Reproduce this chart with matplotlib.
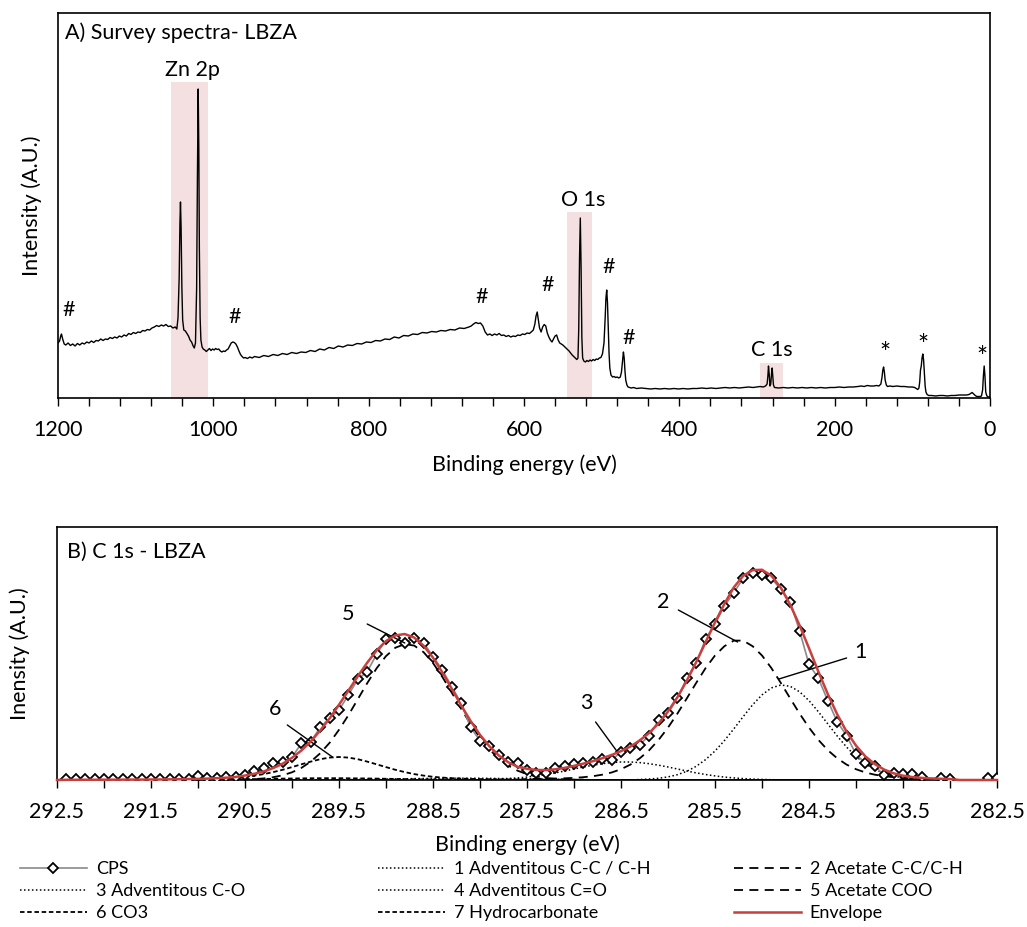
import numpy as np
import matplotlib
matplotlib.use('Agg')
import matplotlib.pyplot as plt
from matplotlib.ticker import MultipleLocator, FixedLocator, FuncFormatter

plt.rcParams['font.family'] = ['Lato', 'DejaVu Sans']

# ---------------- Panel A : survey spectrum ----------------
survey_be = [
    1200, 1198, 1196.5, 1195.5, 1194, 1192, 1190, 1187, 1184, 1181,
    1178, 1175, 1172, 1169, 1166, 1163, 1160, 1157, 1154, 1151,
    1148, 1145, 1142, 1139, 1136, 1133, 1130, 1127, 1124, 1121,
    1118, 1115, 1112, 1109, 1106, 1103, 1100, 1097, 1094, 1091,
    1088, 1085, 1082, 1079, 1076, 1073, 1070, 1067, 1064, 1061,
    1058, 1055, 1052, 1049, 1047, 1045.5, 1044, 1043, 1042.3, 1041.5,
    1040.5, 1039.5, 1038, 1036, 1034, 1032, 1030, 1028, 1026, 1024.5,
    1023, 1021.5, 1020.5, 1019.5, 1018.7, 1018, 1017, 1016, 1014.5, 1013,
    1011, 1009, 1007, 1005, 1003, 1001, 999, 997, 995, 993,
    991, 989, 987, 985, 983, 981, 979, 977, 975, 973,
    971, 969, 967, 965, 963, 961, 959, 956, 953, 950,
    947, 941, 935, 929, 923, 917, 911, 905, 899, 893,
    887, 881, 875, 869, 863, 857, 851, 845, 839, 833,
    827, 821, 815, 809, 803, 797, 791, 785, 779, 773,
    767, 761, 755, 749, 743, 737, 731, 725, 719, 713,
    707, 701, 695, 689, 683, 677, 671, 668, 665, 662,
    659, 656, 653, 650, 647, 644, 641, 638, 635, 632,
    629, 626, 623, 620, 617, 614, 611, 608, 605, 602,
    599, 596, 593, 590, 588, 586, 584.5, 583, 581.5, 580,
    578, 576, 574, 572, 570, 568, 566, 564, 562, 560,
    558, 556, 554, 552, 550, 548, 546, 544, 542, 540,
    538, 536, 534, 532, 530.5, 529.5, 528.5, 527.5, 526.5, 525.5,
    524.5, 523, 521, 519, 517, 515, 513, 511, 509, 507,
    505, 503, 501, 499, 497, 495.5, 494.5, 493.5, 492.5, 491.5,
    490.5, 489.5, 488, 486, 484, 482, 480, 478, 476, 474.5,
    473, 472, 471, 470, 469, 467.5, 466, 464, 462, 459,
    455, 449, 443, 437, 431, 425, 419, 413, 407, 401,
    395, 389, 383, 377, 371, 365, 359, 353, 347, 341,
    335, 329, 323, 317, 311, 305, 300, 296, 292, 289,
    287, 286, 285.2, 284.3, 283.3, 282.3, 281.3, 280.5, 279.7, 278.8,
    277.5, 272, 266, 260, 254, 248, 242, 236, 230, 224,
    218, 212, 206, 200, 194, 188, 182, 176, 170, 166,
    162, 158, 154, 150, 146, 143, 140.5, 139, 138, 137,
    136, 135, 133.5, 132, 129, 125, 120, 115, 110, 105,
    100, 97, 95, 93, 91.5, 90.5, 89.5, 88.5, 87.5, 86.5,
    85.5, 84.5, 83.5, 82.5, 81, 79, 75, 70, 65, 60,
    55, 50, 45, 40, 35, 30, 27, 25, 23, 21,
    19, 17, 15, 13, 11, 9.5, 8.5, 7.5, 6.5, 5.5,
    4, 2, 0.5,
]
survey_int = [
    55, 57, 62, 64, 59, 54, 53, 55, 52.5, 54,
    52, 54.5, 53, 55, 54, 56, 55, 57, 55.5, 57.5,
    57, 59, 57.5, 59, 58.5, 60.5, 59.5, 61, 60, 62,
    61, 63, 62, 64.5, 63.5, 65.5, 64.5, 66, 65.5, 67.5,
    67, 68.5, 68, 70, 71, 72.5, 71.5, 73, 72, 73.5,
    71.5, 72, 70, 71, 69, 80, 120, 175, 196, 170,
    110, 78, 68, 67, 64.5, 62, 58, 56, 52, 50,
    55, 110, 220, 309, 250, 150, 80, 58, 51, 49,
    48, 46.5, 48, 49.5, 47.5, 49, 48, 49.5, 48.5, 49,
    47, 46, 47, 46.5, 48, 49, 52, 55, 56, 55.5,
    54, 51, 47, 43.5, 41.5, 40, 40.5, 39.5, 41, 40,
    41.5, 40.5, 42.5, 41.5, 43.5, 42.5, 44.5, 43.5, 45.5, 44.5,
    46, 45.5, 47.5, 46.5, 49, 48, 50.5, 49.5, 52, 51,
    53, 52.5, 54.5, 54, 56, 55.5, 57.5, 57, 59, 58.5,
    61, 60, 62.5, 62, 64, 63.5, 65.5, 65, 66.5, 66,
    67.5, 67, 68.5, 68, 70, 69.5, 71, 72, 74, 75.5,
    74.5, 75, 72, 66, 63, 64, 62.5, 64, 63, 64.5,
    62.5, 63, 61.5, 62.5, 61, 62, 61.5, 63, 62.5, 64,
    63.5, 65, 64.5, 66.5, 68, 74, 82, 86, 78, 70,
    66, 71, 73.5, 72, 65, 61, 58, 56, 59, 62,
    63, 58, 55, 54, 53, 51.5, 50, 48.5, 47, 45,
    43, 41.5, 40, 38.5, 40, 70, 140, 180, 130, 60,
    40, 37, 36, 37.5, 36.5, 38, 37, 38.5, 37.5, 39,
    38.5, 40, 40.5, 44, 55, 80, 100, 108, 95, 70,
    45, 30, 23, 21, 21.5, 20.5, 21, 20, 21, 26,
    38, 46, 40, 27, 18, 13, 11, 10.5, 10, 10.5,
    9.5, 10, 9.5, 9, 9.5, 9, 9.5, 9, 9.5, 9,
    9.5, 9, 9.5, 9.5, 10, 9.5, 10, 9.5, 10, 10.5,
    10, 10.5, 10, 10.5, 11, 10.5, 11, 11.5, 11, 12,
    14, 22, 32, 24, 12, 14, 24, 30, 22, 13,
    10.5, 10, 10.5, 10, 10.5, 10, 10.5, 10, 10.5, 10,
    10.5, 10, 10.5, 10.5, 11, 10.5, 11, 11, 11.5, 12,
    11.5, 12.5, 12, 12, 12.5, 12, 14, 21, 28, 31,
    26, 18, 13, 11.5, 12, 11.5, 12, 11.5, 11.5, 11,
    11, 10.5, 9.5, 8.5, 10, 16, 28, 32, 40, 44,
    38, 25, 12, 6, 3.5, 2.5, 2.5, 2, 2.5, 2.5,
    2, 2.5, 2.5, 3, 3, 3, 3.5, 4.5, 5.5, 4,
    2.5, 1.5, 1.5, 1.5, 2, 8, 22, 32, 22, 6,
    2, 1, 1,
]
assert len(survey_be) == len(survey_int)

# highlighted regions: (high BE, low BE, height as axes fraction)
highlight_ranges = [(1054.5, 1007, 0.82), (545, 513, 0.483), (296, 266, 0.091)]
region_labels = ['Zn 2p', 'O 1s', 'C 1s']
region_label_be = [1027.5, 524, 281]
region_label_int = [328, 198, 48]
marker_labels = ['#', '#', '#', '#', '#', '#', '*', '*', '*']
marker_label_be = [1186, 972, 654, 570, 491, 465, 135, 86, 10]
marker_label_int = [88, 81, 101, 113, 131, 60, 44, 52, 40]

# ---------------- Panel B : C 1s high resolution ----------------
cps_be = np.round(np.arange(292.4, 282.45, -0.1), 1)
cps_counts = [
    1.0, 1.0, 1.0, 1.0, 1.0, 1.0, 1.0, 1.0, 1.0, 1.0,
    1.5, 1.0, 1.0, 1.0, 4.3, 2.3, 1.7, 2.7, 3.3, 5.0,
    9.3, 11.7, 16.7, 17.7, 22.7, 36.7, 38.3, 52.7, 61.7, 70.0,
    85.0, 100.7, 108.3, 125.7, 140.7, 142.5, 137.0, 142.2, 137.3, 123.3,
    110.0, 93.3, 76.7, 52.7, 39.3, 34.0, 25.0, 18.3, 16.7, 10.0,
    6.7, 6.7, 11.7, 14.0, 16.0, 16.7, 18.3, 21.0, 20.0, 28.0,
    32.0, 35.5, 44.3, 60.0, 66.7, 81.7, 101.7, 116.7, 141.0, 156.0,
    174.0, 187.3, 201.7, 207.3, 205.0, 201.7, 190.7, 178.3, 149.0, 115.7,
    101.7, 79.3, 58.3, 44.3, 25.7, 16.7, 14.0, 5.0, 6.7, 6.0,
    5.7, 3.3, -8.0, 1.7, 0.7, -8.0, -8.0, -8.0, 1.7, 1.7,
]

comp_be = np.round(np.arange(292.5, 282.45, -0.1), 1)
# fitted components: first binding energy of the listed values, then the values
comp1_start = 286.3
comp1 = [0.5, 1.0, 1.7, 3.1, 5.3, 8.7, 13.7, 20.4, 29.0, 39.4, 51.1, 63.4, 75.2,
         85.1, 92.1, 95.0, 93.7, 88.2, 79.4, 68.2, 56.1, 44.0, 32.9, 23.6, 16.1,
         10.6, 6.6, 3.9, 2.2, 1.2, 0.6, 0.3, 0.1]
comp2_start = 287.5
comp2 = [0.95, 1.1, 1.25, 1.45, 1.7, 2.1, 2.8, 3.8, 5.3, 7.5, 10.8, 15.4, 21.7,
         29.8, 40.1, 52.4, 66.4, 81.6, 97.1, 111.9, 124.5, 133.8, 139.4, 139.4,
         133.8, 124.5, 111.9, 97.1, 81.6, 66.4, 52.4, 40.1, 29.8, 21.7, 15.4,
         10.8, 7.5, 5.3, 3.8, 2.8, 2.1, 1.7, 1.45, 1.25, 1.1, 0.95]
comp3_start = 288.1
comp3 = [0.2, 0.3, 0.6, 0.9, 1.4, 2.1, 2.9, 4.1, 5.5, 7.1, 9.0, 11.0, 13.0, 14.8,
         16.3, 17.4, 18.0, 18.0, 17.4, 16.3, 14.8, 13.0, 11.0, 9.0, 7.1, 5.5,
         4.1, 2.9, 2.1, 1.4, 0.9, 0.6, 0.3, 0.2]
comp4_start = 290.0
comp4 = [0.05, 0.07, 0.11, 0.14, 0.21, 0.29, 0.38, 0.49, 0.61, 0.75, 0.9, 1.06,
         1.23, 1.38, 1.51, 1.63, 1.72, 1.78, 1.8, 1.78, 1.72, 1.63, 1.51, 1.38,
         1.23, 1.06, 0.9, 0.75, 0.61, 0.49, 0.38, 0.29, 0.21, 0.14, 0.11, 0.07,
         0.05]
comp5_start = 290.5
comp5 = [0.5, 0.9, 1.6, 2.8, 4.7, 7.7, 12.1, 18.4, 26.7, 37.2, 50.2, 64.8, 80.8,
         96.8, 111.7, 123.9, 132.3, 135.9, 134.4, 127.8, 117.0, 103.0, 87.3,
         71.1, 55.8, 42.1, 30.6, 21.4, 14.4, 9.3, 5.8, 3.5, 2.0, 1.1, 0.6, 0.3]
comp6_start = 292.4
comp6 = [0.2, 0.2, 0.25, 0.25, 0.3, 0.3, 0.35, 0.4, 0.4, 0.5, 0.5, 0.6, 0.65,
         0.8, 0.9, 1.1, 1.4, 1.8, 2.4, 3.2, 4.4, 5.9, 7.9, 10.2, 12.9, 15.7,
         18.4, 20.8, 22.4, 23.0, 22.4, 20.8, 18.4, 15.7, 12.9, 10.2, 7.9, 5.9,
         4.4, 3.2, 2.4, 1.8, 1.4, 1.1, 0.9, 0.8, 0.65, 0.6, 0.5, 0.5, 0.45, 0.4,
         0.4, 0.35, 0.35, 0.3]
comp7_start = 291.4
comp7 = [0.05, 0.07, 0.11, 0.14, 0.21, 0.29, 0.38, 0.49, 0.61, 0.75, 0.9, 1.06,
         1.23, 1.38, 1.51, 1.63, 1.72, 1.78, 1.8, 1.78, 1.72, 1.63, 1.51, 1.38,
         1.23, 1.06, 0.9, 0.75, 0.61, 0.49, 0.38, 0.29, 0.21, 0.14, 0.11, 0.07,
         0.05]

comp_names = ['1 Adventitous C-C / C-H', '2 Acetate C-C/C-H', '3 Adventitous C-O',
              '4 Adventitous C=O', '5 Acetate COO', '6 CO3', '7 Hydrocarbonate']
comp_starts = [comp1_start, comp2_start, comp3_start, comp4_start, comp5_start,
               comp6_start, comp7_start]
comp_values = [comp1, comp2, comp3, comp4, comp5, comp6, comp7]

peak_numbers = ['1', '2', '3', '5', '6']
peak_text_be = [283.95, 286.05, 286.87, 289.40, 290.18]
peak_text_int = [128, 178, 77, 166, 71]
leader_from_be = [284.10, 285.89, 286.77, 289.20, 290.05]
leader_from_int = [122, 170, 58, 156, 55]
leader_to_be = [284.82, 285.26, 286.53, 288.80, 289.57]
leader_to_int = [101, 138, 27, 137, 23]

x_tick_labels_b = [292.5, 291.5, 290.5, 289.5, 288.5, 287.5, 286.5, 285.5, 284.5, 283.5, 282.5]


def on_grid(start, vals):
    arr = np.zeros(len(comp_be))
    i0 = int(np.argmin(np.abs(comp_be - start)))
    arr[i0:i0 + len(vals)] = vals
    return arr


comp_full = [on_grid(s, v) for s, v in zip(comp_starts, comp_values)]
envelope = np.sum(comp_full, axis=0)

# ---------------- Figure ----------------
W, H = 1027, 927
fig = plt.figure(figsize=(W / 100, H / 100), dpi=100)


def fax(l, t, r, b):
    return fig.add_axes([l / W, 1 - b / H, (r - l) / W, (b - t) / H])


FS = 15.5
ax1 = fax(58, 13, 990, 398)
ax2 = fax(57, 527, 997, 780)

# Panel A
for hi, lo, top in highlight_ranges:
    ax1.axvspan(lo, hi, ymin=0, ymax=top, color='#f4e0e0', lw=0, zorder=0)
ax1.plot(survey_be, survey_int, color='black', lw=1.0, zorder=2)
for lab, x, y in zip(region_labels, region_label_be, region_label_int):
    ax1.text(x, y, lab, ha='center', va='center', fontsize=FS)
for lab, x, y in zip(marker_labels, marker_label_be, marker_label_int):
    ax1.text(x, y, lab, ha='center', va='center',
             fontsize=FS if lab == '#' else 19)
ax1.set_xlim(1200, 0)
ax1.set_ylim(0, 385)
ax1.xaxis.set_major_locator(MultipleLocator(200))
ax1.xaxis.set_minor_locator(MultipleLocator(40))
ax1.set_yticks([])
ax1.text(0.0075, 0.948, 'A) Survey spectra- LBZA', transform=ax1.transAxes,
         ha='left', va='center', fontsize=FS)
ax1.set_xlabel('Binding energy (eV)', fontsize=FS)
ax1.xaxis.label.set_va('center')
ax1.xaxis.set_label_coords(0.5, (398 - 465) / 385)
ax1.set_ylabel('Intensity (A.U.)', fontsize=FS)
ax1.yaxis.label.set_va('center')
ax1.yaxis.set_label_coords((32 - 58) / 932, 0.5)

# Panel B
styles = [
    dict(ls=(0, (1, 1.6)), lw=1.1),
    dict(ls=(0, (5, 3.5)), lw=1.3),
    dict(ls=(0, (1, 1.6)), lw=1.1),
    dict(ls=(0, (1, 1.6)), lw=1.1),
    dict(ls=(0, (5, 3.5)), lw=1.3),
    dict(ls=(0, (2.5, 1.5)), lw=1.3),
    dict(ls=(0, (2.5, 1.5)), lw=1.3),
]
comp_lines = []
for name, vals, st in zip(comp_names, comp_full, styles):
    ln, = ax2.plot(comp_be, vals, color='black', label=name, zorder=2, **st)
    comp_lines.append(ln)
cps_line, = ax2.plot(cps_be, cps_counts, color='#8a8a8a', lw=1.2, marker='D',
                     ms=5.2, mfc='white', mec='black', mew=1.3, label='CPS', zorder=3)
env_line, = ax2.plot(comp_be, envelope, color='#c93f3e', lw=1.8, label='Envelope',
                     zorder=5, clip_on=False)
for lab, tx, ty, fx, fy, ex, ey in zip(peak_numbers, peak_text_be, peak_text_int,
                                       leader_from_be, leader_from_int,
                                       leader_to_be, leader_to_int):
    ax2.text(tx, ty, lab, ha='center', va='center', fontsize=FS)
    ax2.annotate('', xy=(ex, ey), xytext=(fx, fy),
                 arrowprops=dict(arrowstyle='-', color='black', lw=1.0,
                                 shrinkA=0, shrinkB=0))
ax2.set_xlim(292.5, 282.5)
ax2.set_ylim(0, 253)
ax2.xaxis.set_major_locator(FixedLocator(x_tick_labels_b))
ax2.xaxis.set_major_formatter(FuncFormatter(lambda v, p: f'{v:.1f}'))
ax2.xaxis.set_minor_locator(MultipleLocator(0.5))
ax2.set_yticks([])
ax2.text(0.0106, 0.901, 'B) C 1s - LBZA', transform=ax2.transAxes,
         ha='left', va='center', fontsize=FS)
ax2.set_xlabel('Binding energy (eV)', fontsize=FS)
ax2.xaxis.label.set_va('center')
ax2.xaxis.set_label_coords(0.5, (780 - 845) / 253)
ax2.set_ylabel('Inensity (A.U.)', fontsize=FS)
ax2.yaxis.label.set_va('center')
ax2.yaxis.set_label_coords((20 - 57) / 940, 0.5)

for ax in (ax1, ax2):
    for s in ax.spines.values():
        s.set_linewidth(1.2)
        s.set_color('black')
    ax.tick_params(axis='x', which='both', direction='out', length=5.8, width=1.0,
                   labelsize=FS, pad=10)

# Legend: three columns as in the reference
legend_cols = [
    [cps_line, comp_lines[2], comp_lines[5]],
    [comp_lines[0], comp_lines[3], comp_lines[6]],
    [comp_lines[1], comp_lines[4], env_line],
]
col_x = [20, 378, 734]
for hs, cx in zip(legend_cols, col_x):
    fig.legend(handles=hs, labels=[h.get_label() for h in hs], loc='upper left',
               bbox_to_anchor=(cx / W, 1 - 861 / H), frameon=False, fontsize=13,
               handlelength=3.7, handletextpad=0.5, labelspacing=0.33,
               borderpad=0, borderaxespad=0)

fig.savefig('out.png', dpi=100)
